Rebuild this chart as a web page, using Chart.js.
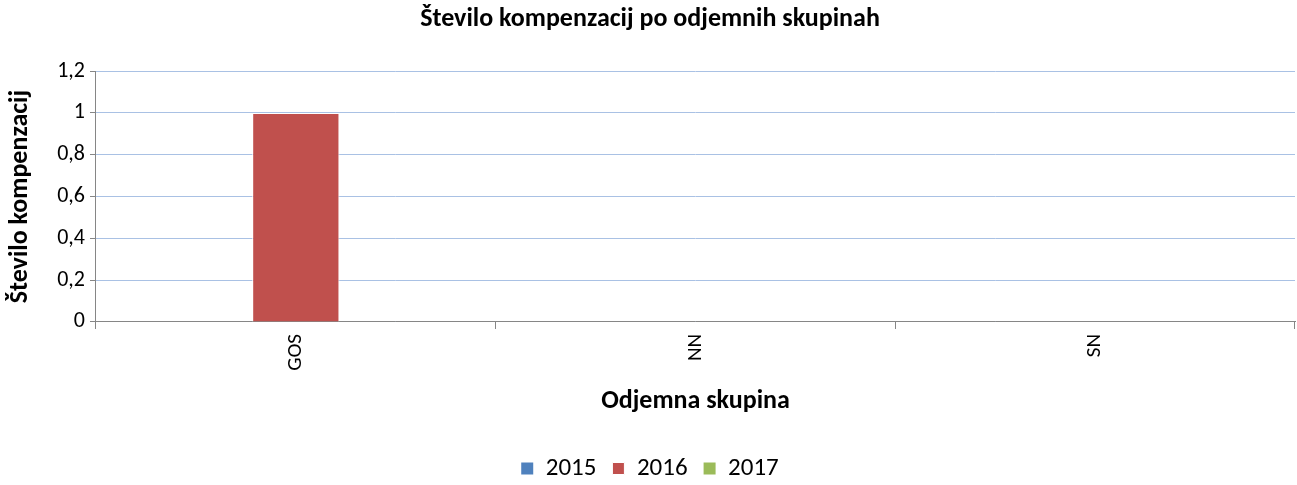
<!DOCTYPE html>
<html>
<head>
<meta charset="utf-8">
<script src="https://cdn.jsdelivr.net/npm/chart.js@4/dist/chart.umd.min.js"></script>
<style>
  html, body { margin: 0; padding: 0; background: #fff; }
  #wrap { width: 1297px; height: 485px; position: relative; }
</style>
</head>
<body>
<div id="wrap"><canvas id="chart"></canvas></div>
<script>
const categories = ['GOS', 'NN', 'SN'];
const years = ['2015', '2016', '2017'];
const values2015 = [0, 0, 0];
const values2016 = [1, 0, 0];
const values2017 = [0, 0, 0];
const yTicks = [0, 0.2, 0.4, 0.6, 0.8, 1, 1.2];

const colors = ['#4F81BD', '#C0504D', '#9BBB59'];
const font = "Calibri, Carlito, 'Open Sans', sans-serif";

Chart.defaults.font.family = font;
Chart.defaults.color = '#000';

// 0.6000000000000001 -> "0,6"
const fmt = v => (Math.round(v * 10) / 10).toString().replace('.', ',');

new Chart(document.getElementById('chart'), {
  type: 'bar',
  data: {
    labels: categories,
    datasets: [values2015, values2016, values2017].map((data, i) => ({
      label: years[i],
      data,
      backgroundColor: colors[i],
      borderColor: '#fff',
      borderWidth: data.map(v => v > 0 ? 1 : 0),
      borderSkipped: 'bottom',
      categoryPercentage: 0.655,
      barPercentage: 1
    }))
  },
  options: {
    responsive: true,
    maintainAspectRatio: false,
    animation: false,
    layout: { padding: { left: 5, right: 2, top: 0, bottom: -6 } },
    plugins: {
      title: {
        display: true,
        text: 'Število kompenzacij po odjemnih skupinah',
        font: { size: 26, weight: 'bold' },
        padding: { top: 4, bottom: 36 }
      },
      legend: {
        position: 'bottom',
        labels: {
          boxWidth: 12,
          boxHeight: 12,
          font: { size: 25 },
          padding: 16
        }
      },
      tooltip: { enabled: false }
    },
    scales: {
      x: {
        grid: {
          offset: true,
          drawOnChartArea: false,
          color: '#868686',
          tickLength: 7
        },
        border: { color: '#868686', width: 1 },
        ticks: {
          minRotation: 90,
          maxRotation: 90,
          font: { size: 21 },
          padding: 5
        },
        title: {
          display: true,
          text: 'Odjemna skupina',
          font: { size: 26, weight: 'bold' },
          padding: { top: 10, bottom: 23 }
        }
      },
      y: {
        min: 0,
        max: 1.2,
        afterBuildTicks: axis => { axis.ticks = yTicks.map(v => ({ value: v })); },
        grid: {
          color: '#a9c1e4',
          lineWidth: 1,
          tickColor: '#868686',
          tickLength: 6
        },
        border: { color: '#868686', width: 1 },
        ticks: {
          callback: v => fmt(v),
          font: { size: 22 },
          padding: 5
        },
        title: {
          display: true,
          text: 'Število kompenzacij',
          font: { size: 26, weight: 'bold' },
          padding: { top: 0, bottom: 16 }
        }
      }
    }
  }
});
</script>
</body>
</html>
